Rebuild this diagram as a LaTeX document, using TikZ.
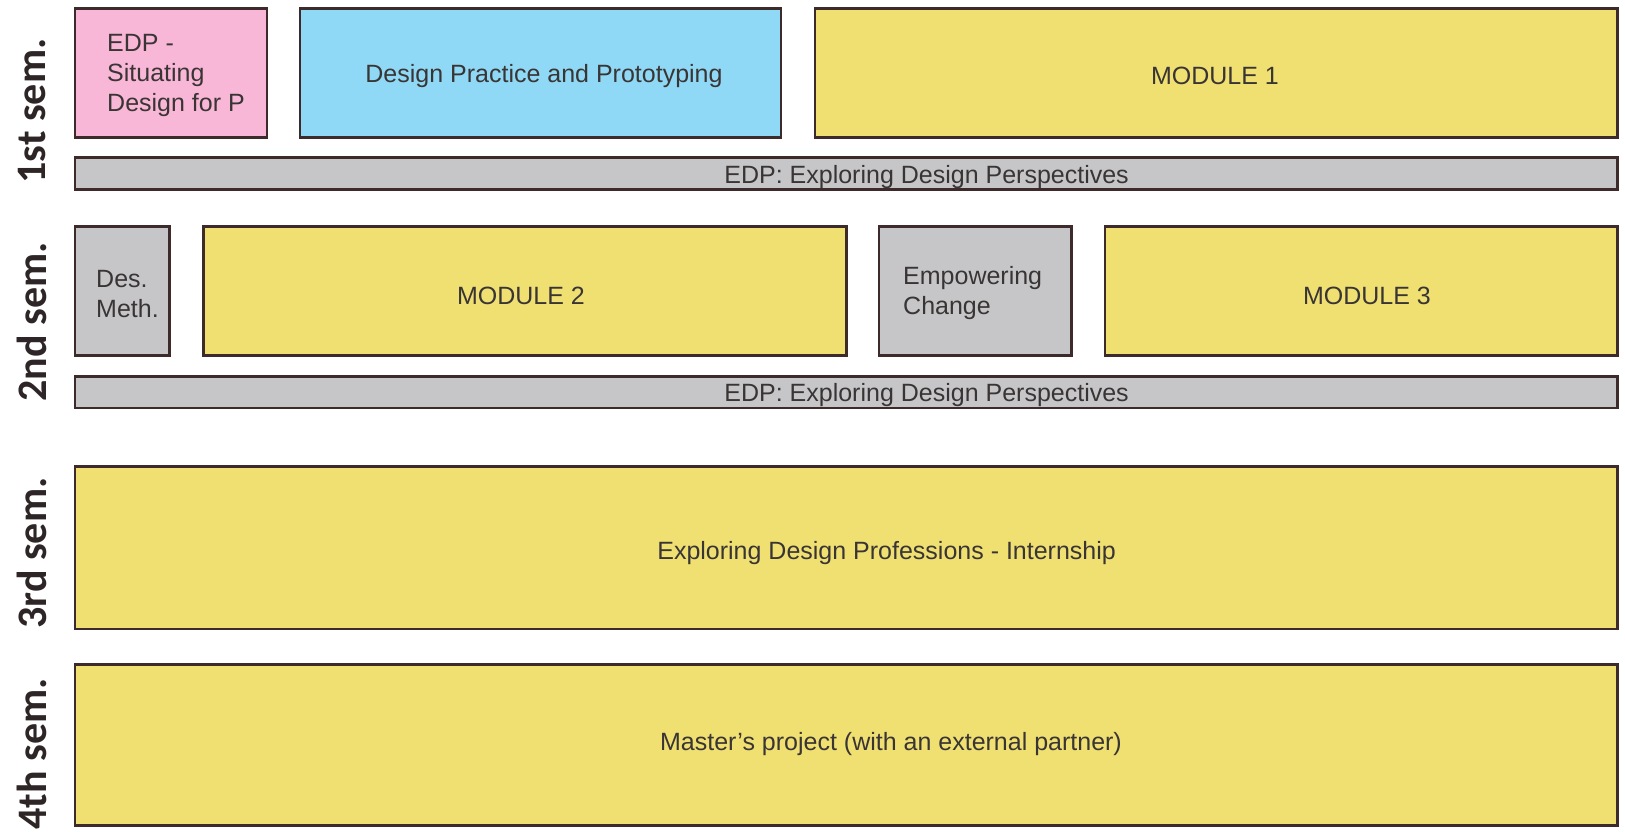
\documentclass[tikz,border=0pt]{standalone}
\usepackage{fontspec}
\setmainfont{Liberation Sans}
\newfontfamily\labfont{Carlito}
\definecolor{pinkfill}{HTML}{F9B7D7}
\definecolor{bluefill}{HTML}{8FD9F6}
\definecolor{yelfill}{HTML}{F0E072}
\definecolor{grayfill}{HTML}{C6C6C8}
\definecolor{edgecol}{HTML}{3D2B2B}
\definecolor{txtcol}{HTML}{3A3535}
\definecolor{semcol}{HTML}{2E2626}
\tikzset{
  box/.style={draw=edgecol, line width=2.6pt, inner sep=0pt, outer sep=0pt, anchor=north west},
  txt/.style={font=\fontsize{25}{30}\selectfont, text=txtcol, inner sep=0pt},
  semlab/.style={font=\labfont\bfseries\fontsize{42}{42}\selectfont, text=semcol, rotate=90, inner sep=0pt}
}
\begin{document}
\begin{tikzpicture}[x=1pt,y=-1pt]
\useasboundingbox (0,0) rectangle (1625,832);
% row 1
\node[box, fill=pinkfill, minimum width=192pt, minimum height=129pt] (edp) at (75,8.6) {};
\node[box, fill=bluefill, minimum width=481pt, minimum height=129pt] (dpp) at (300,8.6) {};
\node[box, fill=yelfill, minimum width=802.7pt, minimum height=129pt] (mod1) at (815,8.6) {};
\node[box, fill=grayfill, minimum width=1542.7pt, minimum height=31.6pt] (bar1) at (75,157.8) {};
% row 2
\node[box, fill=grayfill, minimum width=94.7pt, minimum height=129pt] (desmeth) at (75,226.2) {};
\node[box, fill=yelfill, minimum width=643.2pt, minimum height=129pt] (mod2) at (203.3,226.2) {};
\node[box, fill=grayfill, minimum width=192.3pt, minimum height=129pt] (emp) at (879.1,226.2) {};
\node[box, fill=yelfill, minimum width=512.6pt, minimum height=129pt] (mod3) at (1105.1,226.2) {};
\node[box, fill=grayfill, minimum width=1542.7pt, minimum height=31.6pt] (bar2) at (75,376.5) {};
% rows 3, 4
\node[box, fill=yelfill, minimum width=1542.7pt, minimum height=162.2pt] (sem3box) at (75,466.6) {};
\node[box, fill=yelfill, minimum width=1542.7pt, minimum height=161.1pt] (sem4box) at (75,664.6) {};
% texts
\node[txt, anchor=west, align=left] (tedp) at (107,75) {EDP -\\Situating\\Design for P};
\node[txt] (tdpp) at (544,76) {Design Practice and Prototyping};
\node[txt] (tmod1) at (1215,76) {MODULE 1};
\node[txt] (tbar1) at (926.6,177) {EDP: Exploring Design Perspectives};
\node[txt, anchor=west, align=left] (tdes) at (96,294.5) {Des.\\Meth.};
\node[txt] (tmod2) at (521,296) {MODULE 2};
\node[txt, anchor=west, align=left] (temp) at (903,293.5) {Empowering\\Change};
\node[txt] (tmod3) at (1367,296) {MODULE 3};
\node[txt] (tbar2) at (926.6,395.5) {EDP: Exploring Design Perspectives};
\node[txt] (tsem3) at (886.6,553) {Exploring Design Professions - Internship};
\node[txt] (tsem4) at (891,744) {Master's project (with an external partner)};
% semester labels
\node[semlab] (s1) at (32,111) {1st sem.};
\node[semlab] (s2) at (32,322) {2nd sem.};
\node[semlab] (s3) at (32,553) {3rd sem.};
\node[semlab] (s4) at (32,754) {4th sem.};
\end{tikzpicture}
\end{document}
